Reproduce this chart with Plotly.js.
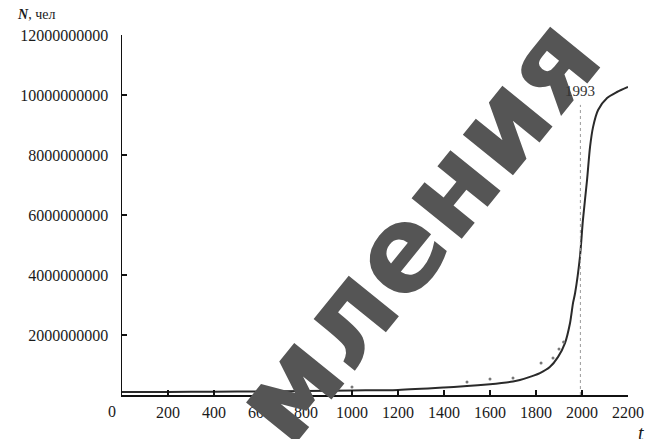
<!DOCTYPE html>
<html>
<head>
<meta charset="utf-8">
<script src="https://cdn.plot.ly/plotly-3.0.1.min.js"></script>
<style>html,body{margin:0;padding:0;background:#fff;}#chart{width:655px;height:439px;}</style>
</head>
<body>
<div id="chart"></div>
<script>
// Model curve (year, population)
const curveYears = [0,200,400,600,800,1000,1200,1400,1500,1600,1650,1700,1730,1780,1817,1860,1896,1926,1948,1961,1970,1991,2004,2022,2035,2048,2070,2109,2152,2200];
const curveN = [0.10e9,0.10e9,0.11e9,0.12e9,0.13e9,0.15e9,0.17e9,0.25e9,0.30e9,0.36e9,0.40e9,0.45e9,0.50e9,0.62e9,0.73e9,0.93e9,1.27e9,1.73e9,2.40e9,3.07e9,3.40e9,4.60e9,5.83e9,7.17e9,8.27e9,8.93e9,9.50e9,9.90e9,10.10e9,10.27e9];
// Observed data points
const dataYears = [1000,1500,1600,1700,1822,1874,1900,1920];
const dataN = [0.27e9,0.43e9,0.53e9,0.57e9,1.07e9,1.23e9,1.53e9,1.77e9];
// Axis ticks
const xTickVals = [0,200,400,600,800,1000,1200,1400,1600,1800,2000,2200];
const xTickText = ['','200','400','600','800','1000','1200','1400','1600','1800','2000','2200'];
const yTickVals = [2e9,4e9,6e9,8e9,10e9,12e9];
const yTickText = ['2000000000','4000000000','6000000000','8000000000','10000000000','12000000000'];
// Marker year
const markYear = 1993;
const markTop = 9.67e9;
const markLabel = '1993';
const yTitle = '<b><i>N</i></b>, чел';
const xTitle = '<i>t</i>';
const watermark = '<b>мления</b>';

const serif = 'Liberation Serif, Times New Roman, serif';

const traces = [
  {x: curveYears, y: curveN, type: 'scatter', mode: 'lines',
   line: {color: '#2a2a2a', width: 2, shape: 'spline', smoothing: 0.8}, hoverinfo: 'skip'},
  {x: dataYears, y: dataN, type: 'scatter', mode: 'markers',
   marker: {color: '#777', size: 3}, hoverinfo: 'skip'}
];

const layout = {
  width: 655, height: 439,
  margin: {l: 122, r: 27, t: 35, b: 44, pad: 0},
  paper_bgcolor: '#fff', plot_bgcolor: '#fff',
  showlegend: false,
  font: {family: serif, color: '#1a1a1a', size: 16},
  xaxis: {
    range: [0, 2200], showgrid: false, zeroline: false,
    showline: true, linecolor: '#111', linewidth: 2,
    ticks: 'inside', ticklen: 5, tickwidth: 1.5, tickcolor: '#111',
    tickvals: xTickVals, ticktext: xTickText,
    tickfont: {family: serif, size: 16, color: '#1a1a1a'},
    ticklabelstandoff: 2
  },
  yaxis: {
    range: [0, 12e9], showgrid: false, zeroline: false,
    showline: true, linecolor: '#111', linewidth: 1.5,
    ticks: 'inside', ticklen: 5, tickwidth: 1.5, tickcolor: '#111',
    tickvals: yTickVals, ticktext: yTickText,
    tickfont: {family: serif, size: 16, color: '#1a1a1a'},
    ticklabelstandoff: 9
  },
  shapes: [
    {type: 'line', xref: 'x', yref: 'y', x0: markYear, x1: markYear, y0: 0, y1: markTop,
     line: {color: '#999', width: 1, dash: 'dot'}}
  ],
  annotations: [
    {text: watermark, xref: 'paper', yref: 'paper', x: 0.583, y: 0.46,
     xanchor: 'center', yanchor: 'middle', showarrow: false, textangle: -51,
     font: {family: 'DejaVu Sans, sans-serif', size: 118, color: '#555'}},
    {text: yTitle, xref: 'paper', yref: 'paper', x: -107/506, y: (395-15)/360,
     xanchor: 'left', yanchor: 'middle', showarrow: false,
     font: {family: serif, size: 14, color: '#1a1a1a'}},
    {text: '0', xref: 'paper', yref: 'paper', x: -10/506, y: -16/360,
     xanchor: 'center', yanchor: 'middle', showarrow: false,
     font: {family: serif, size: 16, color: '#1a1a1a'}},
    {text: markLabel, xref: 'x', yref: 'paper', x: markYear, y: (395-91)/360,
     xanchor: 'left', yanchor: 'middle', xshift: -17, showarrow: false,
     font: {family: serif, size: 15, color: '#333'}},
    {text: xTitle, xref: 'paper', yref: 'paper', x: (641-122)/506, y: -38/360,
     xanchor: 'center', yanchor: 'middle', showarrow: false,
     font: {family: serif, size: 20, color: '#1a1a1a'}}
  ]
};

Plotly.newPlot('chart', traces, layout, {staticPlot: true, displayModeBar: false});
</script>
</body>
</html>
